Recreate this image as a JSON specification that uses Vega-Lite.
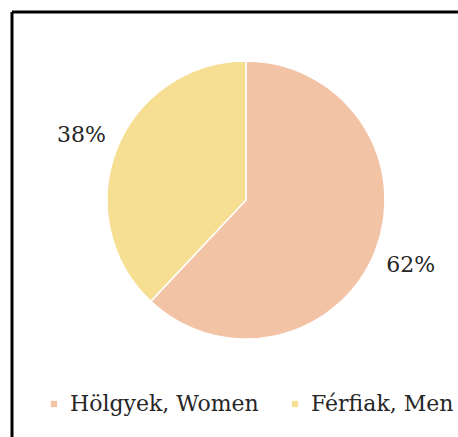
{
  "$schema": "https://vega.github.io/schema/vega-lite/v6.json",
  "width": 458,
  "height": 437,
  "autosize": {"type": "fit", "contains": "padding"},
  "padding": {"left": 12, "top": 12, "right": 0, "bottom": 0},
  "background": "white",
  "config": {
    "view": {"stroke": "black", "strokeWidth": 3, "strokeDash": [446, 871, 425, 0]}
  },
  "data": {
    "values": [
      {"sex": "Hölgyek, Women", "share": 62, "label": "62%"},
      {"sex": "Férfiak, Men", "share": 38, "label": "38%"}
    ]
  },
  "encoding": {
    "theta": {"field": "share", "type": "quantitative", "stack": true},
    "order": {"field": "share", "sort": "descending"},
    "x": {"datum": "pie", "type": "nominal", "scale": {"type": "point", "align": 0.5247}, "axis": null},
    "y": {"datum": "pie", "type": "nominal", "scale": {"type": "point", "align": 0.4424}, "axis": null}
  },
  "layer": [
    {
      "mark": {"type": "arc", "outerRadius": 139, "stroke": "white", "strokeWidth": 1.5},
      "encoding": {
        "color": {
          "field": "sex",
          "type": "nominal",
          "scale": {"domain": ["Hölgyek, Women", "Férfiak, Men"], "range": ["#F3C3A6", "#F6DF92"]},
          "legend": {
            "orient": "none",
            "legendX": 31,
            "legendY": 381,
            "direction": "horizontal",
            "title": null,
            "symbolType": "square",
            "symbolSize": 40,
            "symbolStrokeWidth": 0,
            "labelFont": "DejaVu Serif",
            "labelFontSize": 22,
            "labelColor": "#262626",
            "labelLimit": 400,
            "labelOffset": 5,
            "columnPadding": 25,
            "padding": 0
          }
        }
      }
    },
    {
      "mark": {"type": "text", "radius": 177, "font": "DejaVu Serif", "fontSize": 22, "fill": "#262626"},
      "encoding": {"detail": {"field": "sex"}, "text": {"field": "label"}}
    }
  ]
}
